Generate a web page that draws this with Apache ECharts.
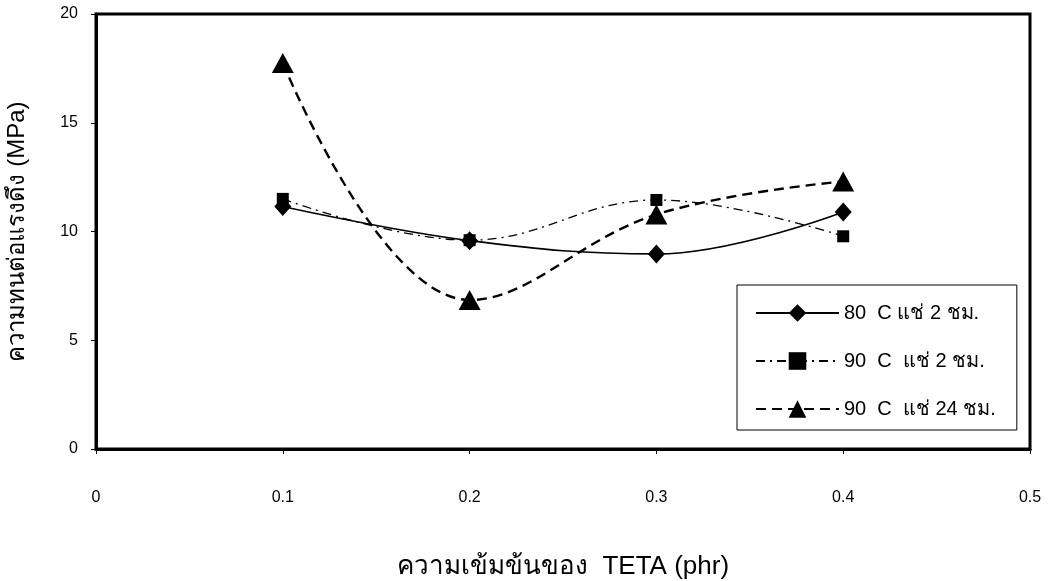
<!DOCTYPE html>
<html>
<head>
<meta charset="utf-8">
<script src="https://cdn.jsdelivr.net/npm/echarts@6/dist/echarts.min.js"></script>
<style>
  html, body { margin: 0; padding: 0; background: #fff; }
  #main { width: 1049px; height: 581px; }
</style>
</head>
<body>
<div id="main"></div>
<script>
// ข้อมูล
const teta = [0.1, 0.2, 0.3, 0.4];
const s80c2h = [11.15, 9.58, 8.97, 10.9];
const s90c2h = [11.5, 9.6, 11.45, 9.78];
const s90c24h = [17.75, 6.85, 10.78, 12.3];
const seriesNames = ["80  C แช่ 2 ชม.", "90  C  แช่ 2 ชม.", "90  C  แช่ 24 ชม."];
const xTicks = [0, 0.1, 0.2, 0.3, 0.4, 0.5];
const yTicks = [0, 5, 10, 15, 20];

const font = "'Liberation Sans', Arial, 'Noto Sans', 'DejaVu Sans', sans-serif";
const pairs = (ys) => teta.map((x, i) => [x, ys[i]]);

const chart = echarts.init(document.getElementById("main"));
const option = {
  backgroundColor: "#fff",
  animation: false,
  textStyle: { fontFamily: font, color: "#000" },
  grid: {
    left: 96,
    right: 19,
    top: 14,
    bottom: 132,
    outerBoundsMode: "none",
    containLabel: false,
    show: true,
    borderColor: "#000",
    borderWidth: 3,
    backgroundColor: "#fff",
  },
  legend: {
    orient: "vertical",
    left: 737,
    top: 285,
    padding: [18, 21, 11, 18],
    itemWidth: 83,
    itemHeight: 22,
    itemGap: 28,
    backgroundColor: "#fff",
    borderColor: "#000",
    borderWidth: 1,
    textStyle: { fontSize: 20, color: "#000", fontFamily: font },
    data: seriesNames,
  },
  xAxis: {
    type: "value",
    min: xTicks[0],
    max: xTicks[xTicks.length - 1],
    interval: 0.1,
    name: "ความเข้มข้นของ  TETA (phr)",
    nameLocation: "middle",
    nameGap: 105,
    nameTextStyle: { fontSize: 26, color: "#000", fontFamily: font },
    axisLine: { show: true, lineStyle: { color: "#000", width: 3 } },
    axisTick: { show: true, length: 5, lineStyle: { color: "#000" } },
    axisLabel: { margin: 41, fontSize: 16, color: "#000", fontFamily: font },
    splitLine: { show: false },
  },
  yAxis: {
    type: "value",
    min: yTicks[0],
    max: yTicks[yTicks.length - 1],
    interval: 5,
    name: "ความทนต่อแรงดึง (MPa)",
    nameLocation: "middle",
    nameGap: 67,
    nameTextStyle: { fontSize: 24, color: "#000", fontFamily: font },
    axisLine: { show: true, lineStyle: { color: "#000", width: 3 } },
    axisTick: { show: true, length: 5, lineStyle: { color: "#000" } },
    axisLabel: { margin: 18, fontSize: 16, color: "#000", fontFamily: font },
    splitLine: { show: false },
  },
  series: [
    {
      name: seriesNames[0],
      type: "line",
      smooth: 0.4,
      data: pairs(s80c2h),
      symbol: "diamond",
      symbolSize: [17, 19],
      itemStyle: { color: "#000" },
      lineStyle: { color: "#000", width: 1.6, type: "solid" },
    },
    {
      name: seriesNames[1],
      type: "line",
      smooth: 0.4,
      data: pairs(s90c2h),
      symbol: "rect",
      symbolSize: 12,
      itemStyle: { color: "#000" },
      lineStyle: { color: "#000", width: 1.3, type: [9, 5, 2, 5] },
    },
    {
      name: seriesNames[2],
      type: "line",
      smooth: 0.4,
      data: pairs(s90c24h),
      symbol: "triangle",
      symbolSize: [22, 20],
      itemStyle: { color: "#000" },
      lineStyle: { color: "#000", width: 2.4, type: [10, 6] },
    },
  ],
};
chart.setOption(option);
</script>
</body>
</html>
